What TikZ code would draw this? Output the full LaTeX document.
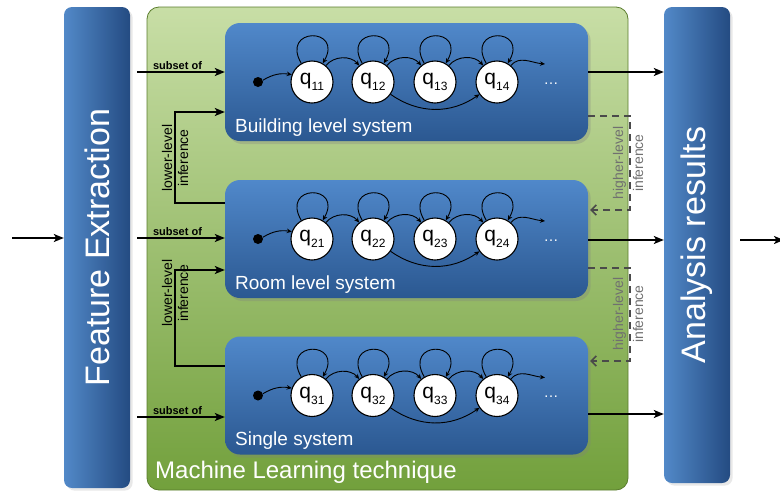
\documentclass[tikz,border=0pt]{standalone}
\usepackage{fontspec}
\setmainfont{Liberation Sans}
\usetikzlibrary{arrows.meta,shadows}
\definecolor{barL}{HTML}{5289C8}
\definecolor{barR}{HTML}{244B82}
\definecolor{boxT}{HTML}{5088CA}
\definecolor{boxB}{HTML}{2B5891}
\definecolor{mlT}{HTML}{C8DEA6}
\definecolor{mlB}{HTML}{72A03C}
\definecolor{mlEdge}{HTML}{5B7D2E}
\definecolor{hiGray}{HTML}{4A4A4A}
\definecolor{txtGray}{HTML}{707070}
\newcommand{\qlab}[1]{q\raisebox{-6pt}{\fontsize{12}{12}\selectfont #1}}

\begin{document}
\begin{tikzpicture}[x=1pt,y=1pt,
    bar/.style={rounded corners=8pt,left color=barL,right color=barR,minimum width=66pt,inner sep=0pt,text=white,font=\fontsize{34}{34}\selectfont,drop shadow={opacity=0.18}},
    mlbox/.style={rounded corners=12pt,draw=mlEdge,line width=0.8pt,top color=mlT,bottom color=mlB,minimum width=481pt,minimum height=483pt},
    sysbox/.style={rounded corners=15pt,top color=boxT,bottom color=boxB,minimum width=363pt,minimum height=118pt,drop shadow={opacity=0.3,shadow yshift=-3pt}},
    qnode/.style={circle,draw,fill=white,line width=1.1pt,minimum size=42pt,inner sep=0pt,font=\fontsize{21}{21}\selectfont},
    conn/.style={line width=1.6pt,-{Stealth[length=10pt,width=8pt,inset=2.5pt]}},
    trans/.style={line width=0.9pt,-{Stealth[length=5pt,width=4.5pt]}},
    back/.style={hiGray,line width=1.6pt,dash pattern=on 7pt off 5pt,-{Straight Barb[length=5pt,width=10pt]}},
    tag/.style={font=\fontsize{11}{11}\selectfont\bfseries,inner sep=2pt},
    infer/.style={rotate=90,align=center,font=\fontsize{14}{16}\selectfont},
    wlab/.style={text=white,anchor=base west,inner sep=0pt}]
    \useasboundingbox (0,0) rectangle (780,-491);
    \node[bar,minimum height=481pt] (fe) at (97,-247.5) {\rotatebox{90}{Feature Extraction}};
    \node[bar,minimum height=476pt] (ar) at (697,-245) {\rotatebox{90}{Analysis results}};
    \node[mlbox] (ml) at (387.5,-248.5) {};
    \node[wlab,font=\fontsize{24}{24}\selectfont] (mlt) at (155,-478) {Machine Learning technique};
    % the three systems
    \foreach \n/\y/\t in {1/-82/Building level system,2/-239/Room level system,3/-395.5/Single system}{
        \node[sysbox] (sys\n) at (406.5,\y) {};
        \node[wlab,font=\fontsize{19}{19}\selectfont] (lab\n) at (235,\y-50) {\t};
        \node[circle,fill,inner sep=0pt,minimum size=10pt] (i\n) at (258,\y) {};
        \foreach \k/\x in {1/312,2/373,3/435,4/497}{
            \node[qnode] (q\n\k) at (\x,\y) {\qlab{\n\k}};
            \draw[trans] (q\n\k) to[out=120,in=60,looseness=5] (q\n\k); % self loop
        }
        \node[text=white,font=\fontsize{15}{15}\selectfont,anchor=base] (d\n) at (551,\y-2) {\dots};
        \coordinate (e\n) at (545,\y+18);
        \draw[trans] (i\n) to[bend left=20] (q\n1);
        \foreach \k/\m in {1/2,2/3,3/4} \draw[trans] (q\n\k) to[out=50,in=130] (q\n\m);
        \draw[trans] (q\n4) to[out=50,in=175] (e\n);
        \draw[trans] (q\n2) to[out=-35,in=-145] (q\n4); % skip
    }
    % inputs and outputs
    \coordinate (src) at (12,-238);
    \coordinate (dst) at (784,-240);
    \draw[conn] (src) -- (fe.west |- src);
    \draw[conn,shorten <=10pt] (ar.east |- dst) -- (dst);
    \foreach \n/\h in {1/-72,2/-238,3/-417}
        \draw[conn,shorten <=7pt] (fe.east |- 0,\h) -- (sys\n.west |- 0,\h) node[tag,midway,above] {subset of};
    \foreach \n/\h in {1/-72,2/-240,3/-414}
        \draw[conn] (sys\n.east |- 0,\h) -- (ar.west |- 0,\h);
    % inference between levels
    \draw[conn] (sys2.west |- 0,-203) -- ++(-50,0) |- (sys1.west |- 0,-112);
    \draw[conn] (sys3.west |- 0,-366) -- ++(-50,0) |- (sys2.west |- 0,-270);
    \node[infer] (lo1) at (175,-158) {lower-level\\inference};
    \node[infer] (lo2) at (175,-293) {lower-level\\inference};
    \draw[back,shorten >=2pt] (sys1.east |- 0,-116) -- ++(42,0) |- (sys2.east |- 0,-210);
    \draw[back,shorten >=2pt] (sys2.east |- 0,-268) -- ++(42,0) |- (sys3.east |- 0,-361);
    \node[infer,text=txtGray,font=\fontsize{14}{20}\selectfont] (hi1) at (628,-163) {higher-level\\inference};
    \node[infer,text=txtGray,font=\fontsize{14}{20}\selectfont] (hi2) at (628,-314) {higher-level\\inference};
\end{tikzpicture}
\end{document}
